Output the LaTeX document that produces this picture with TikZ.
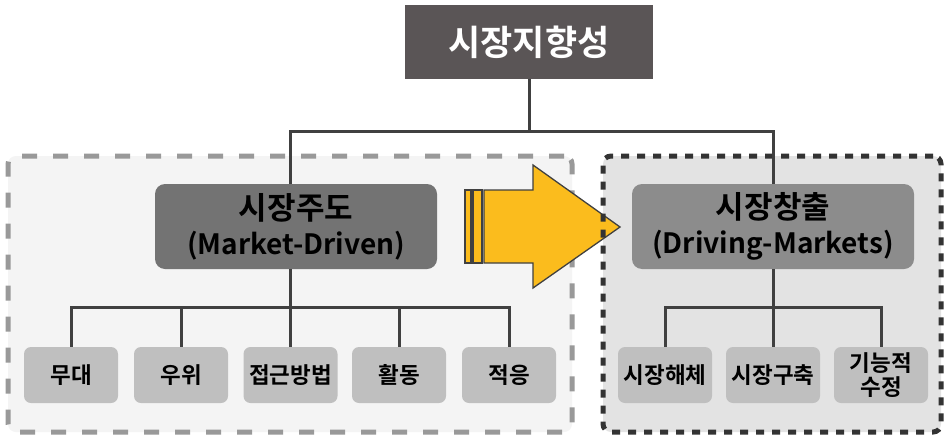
\documentclass[tikz,border=0pt]{standalone}
\usepackage{fontspec}
\setmainfont{Noto Sans CJK KR}[BoldFont={Noto Sans CJK KR Bold}]
\definecolor{topc}{HTML}{5A5556}
\definecolor{lmc}{HTML}{737373}
\definecolor{rmc}{HTML}{8C8C8C}
\definecolor{chc}{HTML}{BFBFBF}
\definecolor{lcont}{HTML}{F4F4F4}
\definecolor{rcont}{HTML}{E3E3E3}
\definecolor{lcdash}{HTML}{999999}
\definecolor{rcdash}{HTML}{333333}
\definecolor{linec}{HTML}{404040}
\definecolor{arrowc}{HTML}{FBBC1D}
\newcommand{\hangsize}{\fontsize{31}{35}\selectfont}
\newcommand{\latsize}{\fontsize{28}{35}\selectfont}
\tikzset{
  conn/.style={draw=linec, line width=3pt},
  topbox/.style={fill=topc, text=white, minimum width=248pt, minimum height=74pt, inner sep=0pt,
    font=\fontsize{35}{40}\selectfont\bfseries},
  mainbox/.style={rounded corners=10pt, minimum width=282pt, minimum height=85pt, inner sep=0pt,
    align=center, text=black, font=\latsize\bfseries},
  childbox/.style={fill=chc, rounded corners=7pt, minimum width=94pt, minimum height=56pt, inner sep=0pt,
    align=center, text=black, font=\fontsize{22.5}{24}\selectfont\bfseries},
  arrowpart/.style={fill=arrowc, draw=linec, line width=1.3pt, line join=miter}
}
\begin{document}
\begin{tikzpicture}[x=1pt,y=-1pt]
\useasboundingbox (0,0) rectangle (944,436);
\fill[white] (0,0) rectangle (944,436);
% containers
\node[draw=lcdash, fill=lcont, line width=5pt, dash pattern=on 15pt off 16pt, rounded corners=8pt,
  minimum width=564pt, minimum height=276pt, inner sep=0pt] (lcont) at (290,294) {};
\fill[rcont, rounded corners=8pt] (603,156) rectangle (941,432);
% arrow
\draw[arrowpart] (465,190) rectangle (471,263);
\draw[arrowpart] (473,190) rectangle (482,263);
\draw[arrowpart] (484,190) -- (533,190) -- (533,165) -- (620,227) -- (533,288) -- (533,263) -- (484,263) -- cycle;
\node[draw=rcdash, line width=5pt, dash pattern=on 8pt off 8pt, rounded corners=8pt,
  minimum width=338pt, minimum height=276pt, inner sep=0pt] (rcont) at (772,294) {};
% main nodes
\node[topbox] (top) at (529,42) {시장지향성};
\node[mainbox, fill=lmc] (lm) at (296,226.5) {{\hangsize 시장주도}\\(Market-Driven)};
\node[mainbox, fill=rmc] (rm) at (773,226.5) {{\hangsize 시장창출}\\(Driving-Markets)};
% children left
\node[childbox] (c1) at (71,375) {무대};
\node[childbox] (c2) at (181,375) {우위};
\node[childbox] (c3) at (290.5,375) {접근방법};
\node[childbox] (c4) at (399,375) {활동};
\node[childbox] (c5) at (509,375) {적응};
% children right
\node[childbox] (d1) at (665,375) {시장해체};
\node[childbox] (d2) at (773,375) {시장구축};
\node[childbox] (d3) at (881,375) {기능적\\수정};
% connectors
\coordinate (hl) at (0,131);
\coordinate (ll) at (0,307);
\draw[conn] (top.south) -- (top.south |- hl);
\draw[conn] ([xshift=-6pt]lm.north) |- (hl -| rm.north) -- (rm.north);
\draw[conn] ([xshift=-6pt]lm.south) -- ([xshift=-6pt]lm.south |- ll);
\draw[conn] (c1.north) |- (ll -| c5.north) -- (c5.north);
\foreach \c in {c2,c3,c4} \draw[conn] (\c.north) -- (\c.north |- ll);
\draw[conn] (rm.south) -- (rm.south |- ll);
\draw[conn] (d1.north) |- (ll -| d3.north) -- (d3.north);
\draw[conn] (d2.north) -- (d2.north |- ll);
\end{tikzpicture}
\end{document}
